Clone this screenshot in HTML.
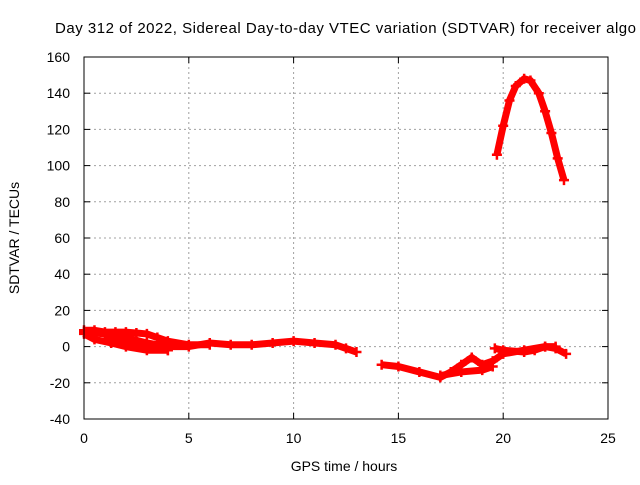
<!DOCTYPE html>
<html><head><meta charset="utf-8"><style>
body{margin:0;background:#fff;}
svg text{font-family:"Liberation Sans",sans-serif;font-size:14px;fill:#000;}
</style></head><body>
<svg id="c" width="640" height="480" xmlns="http://www.w3.org/2000/svg">
<rect width="640" height="480" fill="#fff"/>
<g id="grid"></g><g id="marks"></g><g id="axes"></g>
<text x="55" y="33" textLength="581" lengthAdjust="spacing" style="font-size:15px">Day 312 of 2022, Sidereal Day-to-day VTEC variation (SDTVAR) for receiver algo</text>
<text x="344" y="471" text-anchor="middle">GPS time / hours</text>
<text transform="translate(19,238) rotate(-90)" text-anchor="middle">SDTVAR / TECUs</text>
</svg>
<script>
const xTicks=[0,5,10,15,20,25];
const yTicks=[-40,-20,0,20,40,60,80,100,120,140,160];
const s1x=[0,0.5,1,1.5,2,2.5,3,3.5,4,5,6];
const s1y=[9,9,8,8,8,7.5,7,5,3,1,1];
const s2x=[0,1,2,3,4,5,6,7,8,9,10,11,12,12.5,13];
const s2y=[8,7,5,2,0,0,2,1,1,2,3,2,1,-1,-3];
const s3x=[0,0.5,1.3,2,3,4];
const s3y=[7,4,2,0,-2,-2];
const s4x=[1,2,3,4];
const s4y=[6,3,0,-2];
const s5x=[14.2,15,16,17,17.5,18,18.5,19,19.5,20,21,22,22.5,23];
const s5y=[-10,-11,-14,-17,-14,-10,-6,-10,-8,-4,-2,0,-1,-4];
const s6x=[17,18,19,19.5];
const s6y=[-16,-14,-13,-11];
const s7x=[19.6,20,21,21.5,22,22.5];
const s7y=[-1,-2,-3,-2,0,0];
const s8x=[19.7,20,20.3,20.6,21,21.3,21.7,22,22.3,22.6,22.9];
const s8y=[106,122,136,144,148,147,140,130,118,104,92];
const seriesX=[s1x,s2x,s3x,s4x,s5x,s6x,s7x,s8x];
const seriesY=[s1y,s2y,s3y,s4y,s5y,s6y,s7y,s8y];
const X0=84,X1=608,Y0=419,Y1=57;
const sx=v=>X0+(v-0)/25*(X1-X0);
const sy=v=>Y0-(v+40)/200*(Y0-Y1);
const NS="http://www.w3.org/2000/svg";
function mk(t,a,p){const e=document.createElementNS(NS,t);for(const k in a)e.setAttribute(k,a[k]);p.appendChild(e);return e;}
const grid=document.getElementById('grid'),axes=document.getElementById('axes'),marks=document.getElementById('marks');
xTicks.forEach(v=>{
 if(v>0&&v<25){const l=mk('line',{x1:sx(v),x2:sx(v),y1:Y1,y2:Y0,stroke:'#a0a0a0','stroke-dasharray':'2,3'},grid);
 
 }
 mk('line',{x1:sx(v),x2:sx(v),y1:Y0,y2:Y0-6,stroke:'#000'},axes);
 mk('line',{x1:sx(v),x2:sx(v),y1:Y1,y2:Y1+6,stroke:'#000'},axes);
 const t=mk('text',{x:sx(v),y:Y0+24,'text-anchor':'middle'},axes);t.textContent=v;
 
 
});
yTicks.forEach(v=>{
 if(v>-40&&v<160){const l=mk('line',{x1:X0,x2:X1,y1:sy(v),y2:sy(v),stroke:'#a0a0a0','stroke-dasharray':'2,3'},grid);
 
 }
 mk('line',{x1:X0,x2:X0+6,y1:sy(v),y2:sy(v),stroke:'#000'},axes);
 mk('line',{x1:X1,x2:X1-6,y1:sy(v),y2:sy(v),stroke:'#000'},axes);
 const t=mk('text',{x:X0-14,y:sy(v)+5,'text-anchor':'end'},axes);t.textContent=v;
 
 
});
const fr=mk('rect',{x:X0,y:Y1,width:X1-X0,height:Y0-Y1,fill:'none',stroke:'#000'},axes);


seriesX.forEach((xs,i)=>{
 const ys=seriesY[i];
 const pts=xs.map((x,j)=>sx(x)+','+sy(ys[j])).join(' ');
 const pl=mk('polyline',{points:pts,fill:'none',stroke:'#ff0000','stroke-width':7,'stroke-linejoin':'round'},marks);
 
 
 xs.forEach((x,j)=>{
  const cx=sx(x),cy=sy(ys[j]);
  const p=mk('path',{d:`M${cx-5},${cy}H${cx+5}M${cx},${cy-5}V${cy+5}`,stroke:'#ff0000','stroke-width':2.5},marks);
  
  
 });
});
</script>
</body></html>
